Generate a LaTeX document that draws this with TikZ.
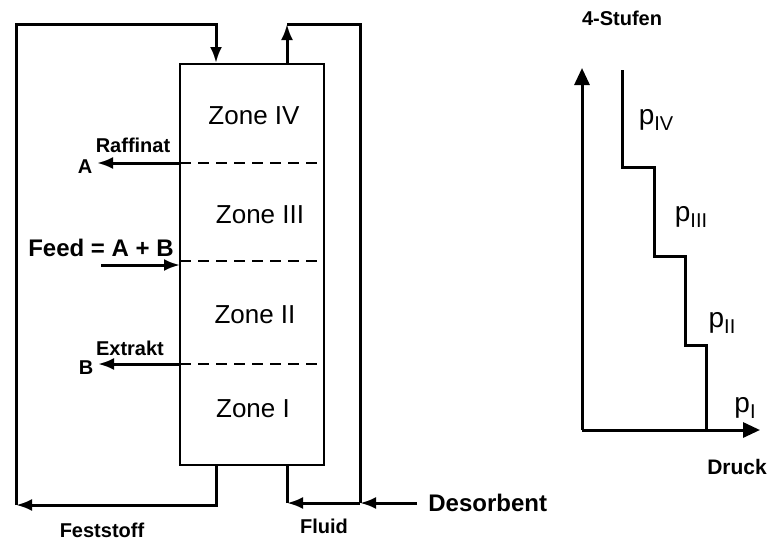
\documentclass[tikz,border=0pt]{standalone}
\usepackage{fontspec}
\setmainfont{Liberation Sans}
\usetikzlibrary{
  arrows.meta,
  positioning,
  calc
}
\newcommand{\sizedfont}[1]{\fontsize{#1}{#1}\selectfont}
\newcommand{\pstage}[1]{p\raisebox{-0.45ex}{\sizedfont{10}#1}}

\begin{document}
\begin{tikzpicture}[x=0.5pt, y=-0.5pt,
  pipe/.style={line width=1.5pt, line join=miter},
  flow/.style={pipe, -{Latex[length=8pt,width=6pt]}},
  axis/.style={pipe, -{Triangle[length=8.5pt,width=7.5pt]}},
  border/.style={dashed, line width=1.4pt, dash pattern=on 5.5pt off 3.5pt},
  zonetext/.style={font=\sizedfont{13}},
  streamtext/.style={font=\sizedfont{10}\bfseries, inner sep=0pt},
  ptext/.style={font=\sizedfont{14}, inner sep=0pt}]
  \useasboundingbox (0,0) rectangle (769,541);

  % Trennsaeule
  \node[draw, line width=1pt, minimum width=72pt, minimum height=200.5pt, inner sep=0pt] (column) at (252,264.5) {};
  \node[zonetext] (z4) at (254,116) {Zone IV};
  \node[zonetext] (z3) at (260,215) {Zone III};
  \node[zonetext] (z2) at (255,315) {Zone II};
  \node[zonetext] (z1) at (253,409) {Zone I};

  \coordinate (raf) at (180,163);
  \coordinate (fed) at (180,265);
  \coordinate (ext) at (180,364);
  \draw[border] (raf) -- (324,163);
  \draw[border] (180,261) -- (324,261);
  \draw[border, line width=1pt] (ext) -- (324,364);

  % Ab- und Zulaeufe
  \node[streamtext] (rafA) at (85,167) {A};
  \node[streamtext] (rafT) at (133,145) {Raffinat};
  \coordinate (rafend) at (97,163);
  \draw[flow] (raf) -- (rafend);
  \node[streamtext] (extB) at (86,368) {B};
  \node[streamtext] (extT) at (130,348) {Extrakt};
  \coordinate (extend) at (98,364);
  \draw[flow] (ext) -- (extend);
  \node[streamtext, font=\sizedfont{12}\bfseries] (feed) at (101,248) {Feed = A + B};
  \coordinate (feedin) at (101,265);
  \draw[flow] (feedin) -- (fed);

  % Feststoff-Kreislauf
  \coordinate (solout) at (216,465);
  \coordinate (solbot) at (216,505);
  \coordinate (solleft) at (16,505);
  \coordinate (soltop) at (16,24);
  \coordinate (solin) at (216,24);
  \draw[flow] (solout) -- (solbot) -- (solleft);
  \draw[flow] (solleft) -- (soltop) -- (solin) -- (column.north -| solin);
  \node[streamtext] (solid) at (102,530) {Feststoff};

  % Fluid-Kreislauf
  \coordinate (fluout) at (287,24);
  \coordinate (fluright) at (360,24);
  \coordinate (flucorner) at (360,503);
  \coordinate (fluin) at (287,503);
  \draw[flow] (column.north -| fluout) -- (fluout);
  \draw[pipe] (fluout) -- (fluright) -- (flucorner);
  \draw[flow] (flucorner) -- (fluin);
  \draw[pipe] (fluin) -- (column.south -| fluin);
  \node[streamtext] (fluid) at (324,526) {Fluid};
  \node[streamtext, font=\sizedfont{12}\bfseries, anchor=west] (desorb) at (428,503) {Desorbent};
  \coordinate (desin) at (417,503);
  \draw[flow] (desin) -- (flucorner);

  % Druckstufen
  \coordinate (origin) at (582,430);
  \coordinate (tend) at (582,68);
  \coordinate (pend) at (760,430);
  \draw[axis] (origin) -- (tend);
  \draw[axis] (origin) -- (pend);
  \draw[pipe] (622,70) |- (654,167) |- (685,256) |- (706,345) -- (706,430);
  \node[streamtext] (stufen) at (622,18) {4-Stufen};
  \node[streamtext, font=\sizedfont{10.5}\bfseries] (druck) at (737,467) {Druck};
  \node[ptext] (p4) at (656,120) {\pstage{IV}};
  \node[ptext] (p3) at (691,217) {\pstage{III}};
  \node[ptext] (p2) at (722,323) {\pstage{II}};
  \node[ptext] (p1) at (745,408) {\pstage{I}};
\end{tikzpicture}
\end{document}
